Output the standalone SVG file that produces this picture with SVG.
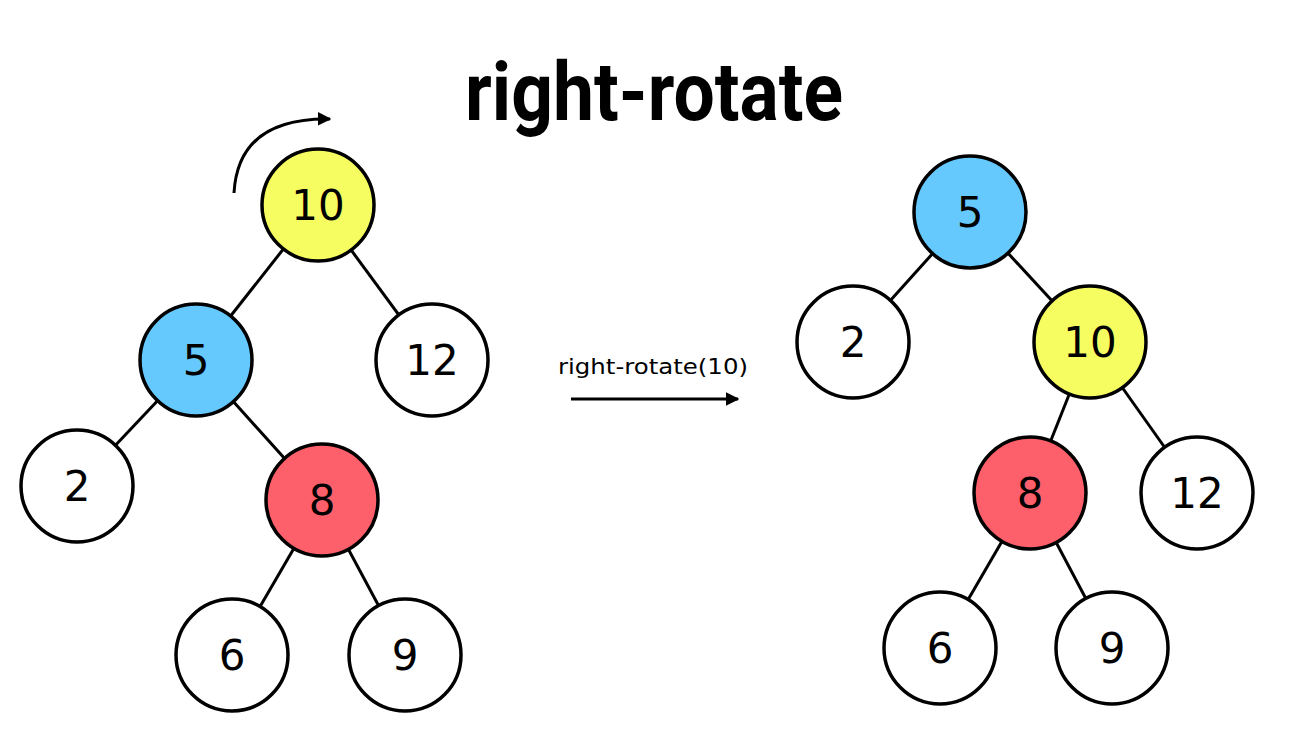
<svg xmlns="http://www.w3.org/2000/svg" width="1305" height="733" viewBox="0 0 1305 733">
  <defs>
    <style>
      .edge { stroke: #000; stroke-width: 3; fill: none; }
      .node circle { stroke: #000; stroke-width: 3.5; }
      .white { fill: #ffffff; }
      .yellow { fill: #f6fd61; }
      .blue { fill: #66c9fe; }
      .red { fill: #fd5f6b; }
      .num { font-family: "DejaVu Sans", "Noto Sans", sans-serif; font-size: 42px; text-anchor: middle; dominant-baseline: central; fill: #000; }
    </style>
    <marker id="arrow" viewBox="0 0 10 10" refX="9" refY="5" markerWidth="4.5" markerHeight="4.5" orient="auto" markerUnits="strokeWidth">
      <path d="M0,0 L10,5 L0,10 z" fill="#000"/>
    </marker>
  </defs>
  <rect width="1305" height="733" fill="#ffffff"/>

  <text x="654" y="120" font-family="Roboto, 'Liberation Sans', sans-serif" font-weight="bold" font-size="82" text-anchor="middle" textLength="378" lengthAdjust="spacingAndGlyphs">right-rotate</text>

  <!-- connectors -->
  <g id="connectors">
    <line class="edge" x1="318" y1="205" x2="196" y2="360"/>
    <line class="edge" x1="318" y1="205" x2="432" y2="360"/>
    <line class="edge" x1="196" y1="360" x2="77" y2="486"/>
    <line class="edge" x1="196" y1="360" x2="322" y2="500"/>
    <line class="edge" x1="322" y1="500" x2="232" y2="655"/>
    <line class="edge" x1="322" y1="500" x2="405" y2="655"/>

    <line class="edge" x1="970" y1="212" x2="853" y2="342"/>
    <line class="edge" x1="970" y1="212" x2="1090" y2="342"/>
    <line class="edge" x1="1090" y1="342" x2="1030" y2="493"/>
    <line class="edge" x1="1090" y1="342" x2="1197" y2="493"/>
    <line class="edge" x1="1030" y1="493" x2="940" y2="648"/>
    <line class="edge" x1="1030" y1="493" x2="1112" y2="648"/>

    <path class="edge" d="M234,193 C237,140 272,118 330,119" stroke-width="3.5" marker-end="url(#arrow)"/>
    <line class="edge" x1="571" y1="399" x2="738" y2="399" stroke-width="3.5" marker-end="url(#arrow)"/>
  </g>
  <text x="653" y="374" font-family="'DejaVu Sans', 'Noto Sans', sans-serif" font-size="22" text-anchor="middle" textLength="190" lengthAdjust="spacingAndGlyphs">right-rotate(10)</text>

  <!-- tree before rotation -->
  <g id="l10" class="node"><circle class="yellow" cx="318" cy="205" r="56"/><text class="num" x="318" y="205">10</text></g>
  <g id="l5" class="node"><circle class="blue" cx="196" cy="360" r="56"/><text class="num" x="196" y="360">5</text></g>
  <g id="l12" class="node"><circle class="white" cx="432" cy="360" r="56"/><text class="num" x="432" y="360">12</text></g>
  <g id="l2" class="node"><circle class="white" cx="77" cy="486" r="56"/><text class="num" x="77" y="486">2</text></g>
  <g id="l8" class="node"><circle class="red" cx="322" cy="500" r="56"/><text class="num" x="322" y="500">8</text></g>
  <g id="l6" class="node"><circle class="white" cx="232" cy="655" r="56"/><text class="num" x="232" y="655">6</text></g>
  <g id="l9" class="node"><circle class="white" cx="405" cy="655" r="56"/><text class="num" x="405" y="655">9</text></g>

  <!-- tree after rotation -->
  <g id="r5" class="node"><circle class="blue" cx="970" cy="212" r="56"/><text class="num" x="970" y="212">5</text></g>
  <g id="r2" class="node"><circle class="white" cx="853" cy="342" r="56"/><text class="num" x="853" y="342">2</text></g>
  <g id="r10" class="node"><circle class="yellow" cx="1090" cy="342" r="56"/><text class="num" x="1090" y="342">10</text></g>
  <g id="r8" class="node"><circle class="red" cx="1030" cy="493" r="56"/><text class="num" x="1030" y="493">8</text></g>
  <g id="r12" class="node"><circle class="white" cx="1197" cy="493" r="56"/><text class="num" x="1197" y="493">12</text></g>
  <g id="r6" class="node"><circle class="white" cx="940" cy="648" r="56"/><text class="num" x="940" y="648">6</text></g>
  <g id="r9" class="node"><circle class="white" cx="1112" cy="648" r="56"/><text class="num" x="1112" y="648">9</text></g>
</svg>
